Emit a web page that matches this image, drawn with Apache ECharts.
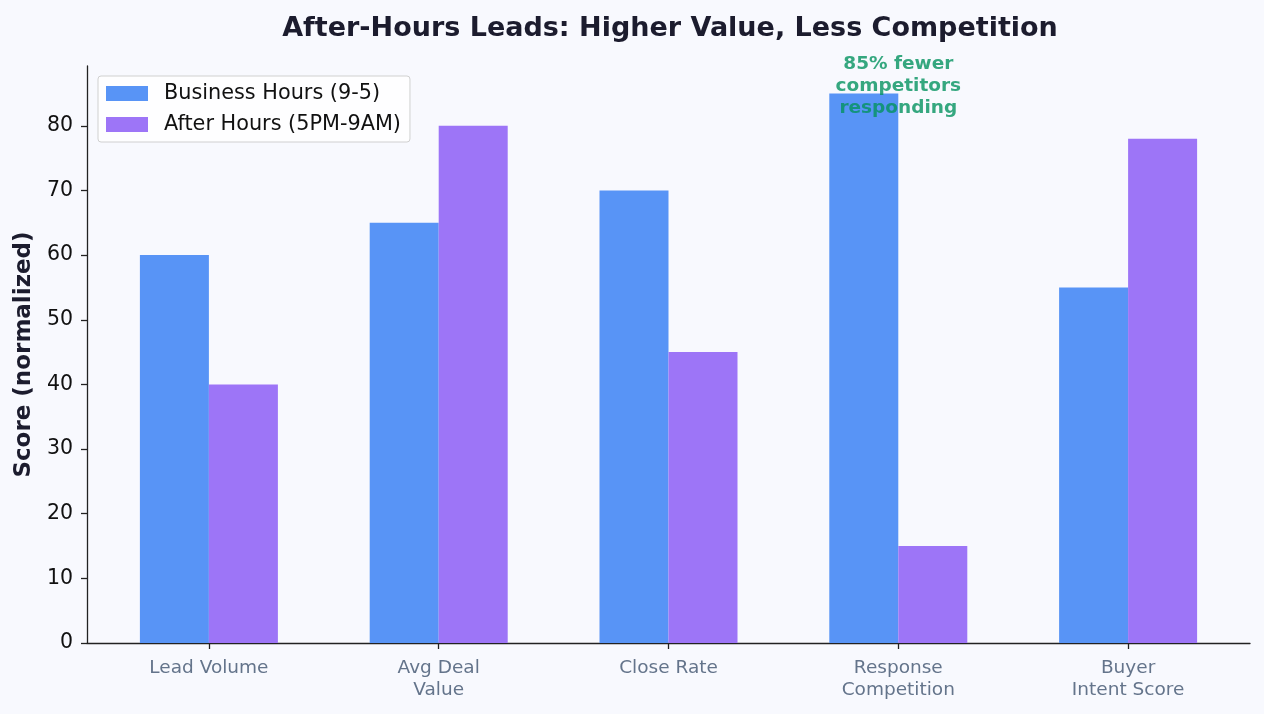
<!DOCTYPE html>
<html>
<head>
<meta charset="utf-8">
<script src="https://cdn.jsdelivr.net/npm/echarts@6/dist/echarts.min.js"></script>
<style>
  html, body { margin: 0; padding: 0; background: #f8f9fe; }
  #chart { width: 1264px; height: 714px; }
</style>
</head>
<body>
<div id="chart"></div>
<script>
// data
var categories = ['Lead Volume', 'Avg Deal\nValue', 'Close Rate', 'Response\nCompetition', 'Buyer\nIntent Score'];
var businessHours = [60, 65, 70, 85, 55];
var afterHours = [40, 80, 45, 15, 78];
var yTicks = [0, 10, 20, 30, 40, 50, 60, 70, 80];
var noteText = '85% fewer\ncompetitors\nresponding';
var noteCategory = 'Response\nCompetition';
var noteValue = 86.2;

var font = 'DejaVu Sans';
var yMax = 89.25;

var myChart = echarts.init(document.getElementById('chart'));
var option = {
    backgroundColor: '#f8f9fe',
    animation: false,
    title: {
        text: 'After-Hours Leads: Higher Value, Less Competition',
        left: 665,
        top: 10,
        textAlign: 'center',
        textStyle: { fontFamily: font, fontSize: 27, fontWeight: 'bold', color: '#1c1c2e' }
    },
    legend: {
        left: 98,
        top: 76,
        orient: 'vertical',
        icon: 'rect',
        padding: [7, 9, 7, 8],
        itemGap: 10,
        itemWidth: 42,
        itemHeight: 15,
        borderColor: '#d0d0d0',
        borderWidth: 1,
        borderRadius: 3,
        backgroundColor: 'rgba(255,255,255,0.8)',
        textStyle: { fontFamily: font, fontSize: 20.8, color: '#111', padding: [0, 0, 0, 11] },
        data: ['Business Hours (9-5)', 'After Hours (5PM-9AM)']
    },
    grid: [
        // frame grid (axis lines)
        { left: 87, right: 14, top: 66, bottom: 71 },
        // bar grid, categories centred like the reference
        { left: 94, right: 21, top: 66, bottom: 71 }
    ],
    xAxis: [
        {
            gridIndex: 0, type: 'value', min: 0, max: 1,
            axisLine: { show: true, lineStyle: { color: '#222', width: 1.3 } },
            axisTick: { show: false }, axisLabel: { show: false }, splitLine: { show: false }
        },
        {
            gridIndex: 1, type: 'category', data: categories,
            axisLine: { show: false },
            axisTick: { show: true, alignWithLabel: true, length: 6, lineStyle: { color: '#222', width: 1.3 } },
            axisLabel: { fontFamily: font, fontSize: 18.5, color: '#64748b', margin: 14, lineHeight: 22, interval: 0 },
            splitLine: { show: false }
        }
    ],
    yAxis: [
        {
            gridIndex: 0, type: 'value', min: 0, max: yMax,
            name: 'Score (normalized)',
            nameLocation: 'middle',
            nameGap: 50,
            nameTextStyle: { fontFamily: font, fontSize: 23, fontWeight: 'bold', color: '#1c1c2e' },
            axisLine: { show: true, lineStyle: { color: '#222', width: 1.3 } },
            axisTick: { show: true, length: 6, customValues: yTicks, lineStyle: { color: '#222', width: 1.3 } },
            axisLabel: { fontFamily: font, fontSize: 20.5, color: '#111', margin: 14, customValues: yTicks },
            splitLine: { show: false }
        },
        {
            gridIndex: 1, type: 'value', min: 0, max: yMax, show: false,
            splitLine: { show: false }
        }
    ],
    series: [
        {
            name: 'Business Hours (9-5)',
            type: 'bar',
            xAxisIndex: 1, yAxisIndex: 1,
            barWidth: 69,
            barGap: '0%',
            itemStyle: { color: '#5894f6', borderWidth: 0 },
            data: businessHours
        },
        {
            name: 'After Hours (5PM-9AM)',
            type: 'bar',
            xAxisIndex: 1, yAxisIndex: 1,
            barWidth: 69,
            barGap: '0%',
            itemStyle: { color: '#9d75f7', borderWidth: 0 },
            data: afterHours
        },
        {
            name: 'note',
            type: 'scatter',
            xAxisIndex: 1, yAxisIndex: 1,
            symbolSize: 1,
            itemStyle: { color: 'rgba(0,0,0,0)' },
            z: 10,
            label: {
                show: true,
                position: 'inside',
                formatter: noteText,
                fontFamily: font,
                fontSize: 18.5,
                fontWeight: 'bold',
                lineHeight: 22,
                color: '#04925f',
                align: 'center'
            },
            data: [[noteCategory, noteValue]]
        }
    ]
};
myChart.setOption(option);
</script>
</body>
</html>
